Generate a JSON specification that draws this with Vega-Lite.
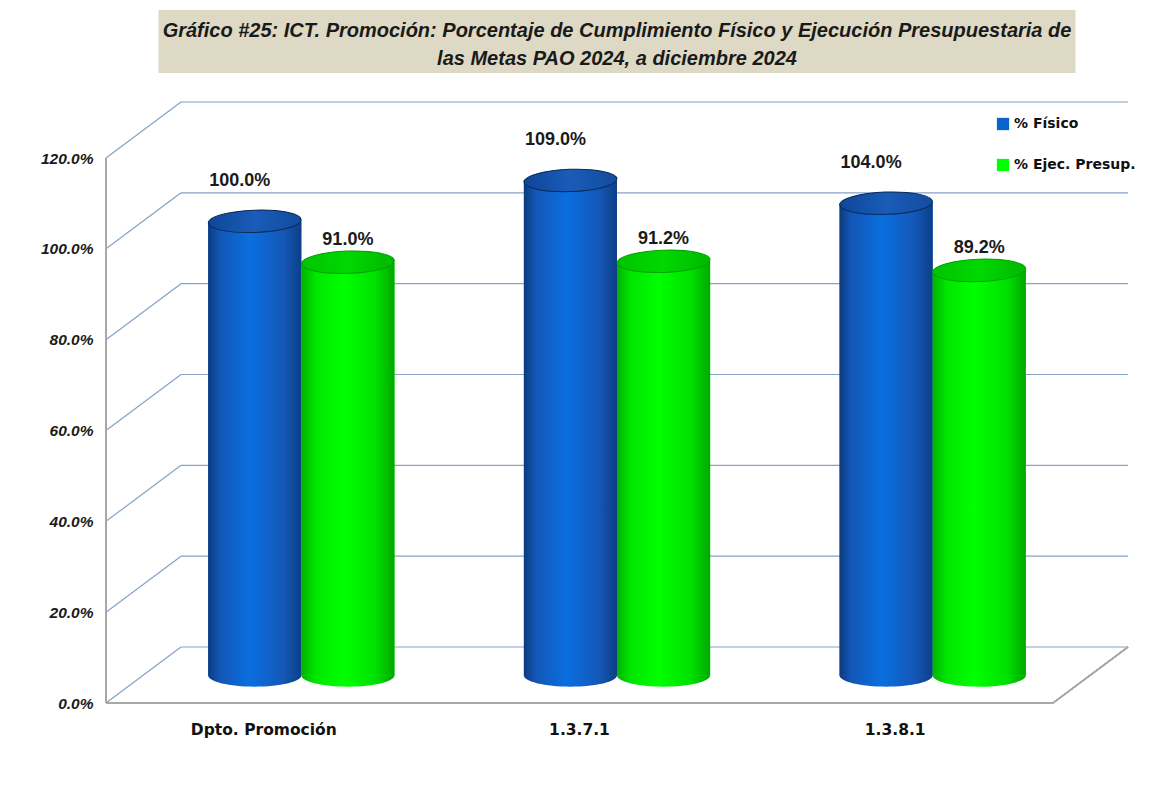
{
  "$schema": "https://vega.github.io/schema/vega-lite/v6.json",
  "background": "white",
  "padding": {"left": 40, "top": 10, "right": 5, "bottom": 5},
  "config": {
    "view": {"stroke": null},
    "font": "Liberation Sans",
    "axisY": {"title": null, "format": ".1%", "grid": false, "domain": false, "ticks": false, "labelFont": "Liberation Sans", "labelFontStyle": "italic", "labelFontWeight": "bold", "labelFontSize": 15.5, "labelPadding": 13, "labelColor": "#1a1a1a"}
  },
  "bounds": "flush",
  "center": true,
  "spacing": 85,
  "vconcat": [
    {
      "width": 917,
      "height": 63,
      "view": {"fill": "#ddd9c4", "stroke": null},
      "data": {"values": [{"t": "Gráfico #25: ICT.  Promoción: Porcentaje de  Cumplimiento Físico y  Ejecución Presupuestaria de\nlas Metas  PAO 2024, a  diciembre 2024"}]},
      "mark": {"type": "text", "lineBreak": "\n", "lineHeight": 28, "font": "Liberation Sans", "fontSize": 20, "fontWeight": "bold", "fontStyle": "italic", "color": "#1a1a1a", "align": "center", "baseline": "middle", "dy": -10.5},
      "encoding": {"text": {"field": "t", "type": "nominal"}}
    },
    {
      "width": 1022,
      "height": 545,
      "resolve": {"scale": {"x": "independent"}},
      "layer": [
        {
          "data": {"values": [{"v": 0}, {"v": 0.2}, {"v": 0.4}, {"v": 0.6}, {"v": 0.8}, {"v": 1.0}, {"v": 1.2}]},
          "layer": [
            {
              "mark": {"type": "rule", "color": "#86a2c9", "strokeWidth": 1.2, "yOffset": -56, "y2Offset": -56},
              "encoding": {
                "x": {"datum": 0.2376, "type": "quantitative", "scale": {"domain": [0, 3.2376], "nice": false, "zero": false}, "axis": null},
                "x2": {"datum": 3.2376},
                "y": {"field": "v", "type": "quantitative", "scale": {"domain": [0, 1.2], "nice": false}, "axis": {"values": [0, 0.2, 0.4, 0.6, 0.8, 1.0, 1.2]}},
                "y2": {"field": "v"}
              }
            },
            {
              "mark": {"type": "rule", "color": "#86a2c9", "strokeWidth": 1.2, "y2Offset": -56},
              "encoding": {
                "x": {"datum": 0, "type": "quantitative", "scale": {"domain": [0, 3.2376], "nice": false, "zero": false}, "axis": null},
                "x2": {"datum": 0.2376},
                "y": {"field": "v", "type": "quantitative", "axis": {"values": [0, 0.2, 0.4, 0.6, 0.8, 1.0, 1.2]}},
                "y2": {"field": "v"}
              }
            },
            {
              "mark": {"type": "rule", "color": "#a8a8a8", "strokeWidth": 1.3},
              "encoding": {
                "x": {"datum": 0, "type": "quantitative", "scale": {"domain": [0, 3.2376], "nice": false, "zero": false}, "axis": null},
                "y": {"datum": 0, "type": "quantitative", "axis": {"values": [0, 0.2, 0.4, 0.6, 0.8, 1.0, 1.2]}},
                "y2": {"datum": 1.2}
              }
            },
            {
              "mark": {"type": "rule", "color": "#a8a8a8", "strokeWidth": 1.3},
              "encoding": {
                "x": {"datum": 0, "type": "quantitative", "scale": {"domain": [0, 3.2376], "nice": false, "zero": false}, "axis": null},
                "x2": {"datum": 3},
                "y": {"datum": 0, "type": "quantitative", "axis": {"values": [0, 0.2, 0.4, 0.6, 0.8, 1.0, 1.2]}}
              }
            },
            {
              "mark": {"type": "rule", "color": "#a8a8a8", "strokeWidth": 1.3, "y2Offset": -56},
              "encoding": {
                "x": {"datum": 3, "type": "quantitative", "scale": {"domain": [0, 3.2376], "nice": false, "zero": false}, "axis": null},
                "x2": {"datum": 3.2376},
                "y": {"datum": 0, "type": "quantitative", "axis": {"values": [0, 0.2, 0.4, 0.6, 0.8, 1.0, 1.2]}},
                "y2": {"datum": 0}
              }
            }
          ]
        },
        {
          "data": {"values": [
            {"cat": "Dpto. Promoción", "serie": "% Físico", "value": 1.0},
            {"cat": "Dpto. Promoción", "serie": "% Ejec. Presup.", "value": 0.91},
            {"cat": "1.3.7.1", "serie": "% Físico", "value": 1.09},
            {"cat": "1.3.7.1", "serie": "% Ejec. Presup.", "value": 0.912},
            {"cat": "1.3.8.1", "serie": "% Físico", "value": 1.04},
            {"cat": "1.3.8.1", "serie": "% Ejec. Presup.", "value": 0.892}
          ]},
          "encoding": {
            "x": {"field": "cat", "type": "nominal", "sort": null,
              "scale": {"paddingInner": 0.41, "paddingOuter": 0.3237},
              "axis": {"title": null, "labelAngle": 0, "labelOffset": -37.5, "labelPadding": 19, "domain": false, "ticks": false, "grid": false, "labelFont": "DejaVu Sans", "labelFontWeight": "bold", "labelFontSize": 15.5, "labelColor": "#111111"}},
            "xOffset": {"field": "serie", "type": "nominal", "sort": ["% Físico", "% Ejec. Presup."], "scale": {"paddingInner": 0, "paddingOuter": 0}}
          },
          "layer": [
            {
              "mark": {"type": "point", "filled": true, "opacity": 1, "shape": "M-1,0A1,0.24,0,1,1,1,0A1,0.24,0,1,1,-1,0Z", "size": 8649, "yOffset": -27.5},
              "encoding": {
                "y": {"datum": 0, "type": "quantitative", "axis": {"values": [0, 0.2, 0.4, 0.6, 0.8, 1.0, 1.2]}},
                "fill": {"condition": {"test": "datum.serie === '% Físico'", "value": {"gradient": "linear", "x1": 0, "x2": 1, "y1": 0, "y2": 0, "stops": [{"offset": 0, "color": "#0b3a7e"}, {"offset": 0.12, "color": "#1356b5"}, {"offset": 0.45, "color": "#0a6fe0"}, {"offset": 0.8, "color": "#1458b8"}, {"offset": 1, "color": "#0c3f86"}]}},
                  "value": {"gradient": "linear", "x1": 0, "x2": 1, "y1": 0, "y2": 0, "stops": [{"offset": 0, "color": "#00b400"}, {"offset": 0.15, "color": "#00e600"}, {"offset": 0.45, "color": "#00ff00"}, {"offset": 0.8, "color": "#00e000"}, {"offset": 1, "color": "#00a800"}]}}
              }
            },
            {
              "mark": {"type": "bar", "yOffset": -27.5, "y2Offset": -27.5},
              "encoding": {
                "y": {"field": "value", "type": "quantitative", "scale": {"domain": [0, 1.2], "nice": false}, "axis": {"values": [0, 0.2, 0.4, 0.6, 0.8, 1.0, 1.2]}},
                "y2": {"datum": 0},
                "fill": {"field": "serie", "type": "nominal", "title": null,
                  "scale": {"domain": ["% Físico", "% Ejec. Presup."], "range": ["#0a62cc", "#00ff00"]},
                  "legend": {"orient": "none", "legendX": 890, "legendY": 107, "symbolType": "square", "symbolSize": 150, "symbolStrokeWidth": 0, "labelFont": "DejaVu Sans", "labelFontWeight": "bold", "labelFontSize": 14, "labelColor": "#111111", "rowPadding": 27, "labelOffset": 4}}
              }
            },
            {
              "mark": {"type": "bar", "yOffset": -27.5, "y2Offset": -27.5},
              "encoding": {
                "y": {"field": "value", "type": "quantitative", "axis": {"values": [0, 0.2, 0.4, 0.6, 0.8, 1.0, 1.2]}},
                "y2": {"datum": 0},
                "fill": {"condition": {"test": "datum.serie === '% Físico'", "value": {"gradient": "linear", "x1": 0, "x2": 1, "y1": 0, "y2": 0, "stops": [{"offset": 0, "color": "#0b3a7e"}, {"offset": 0.12, "color": "#1356b5"}, {"offset": 0.45, "color": "#0a6fe0"}, {"offset": 0.8, "color": "#1458b8"}, {"offset": 1, "color": "#0c3f86"}]}},
                  "value": {"gradient": "linear", "x1": 0, "x2": 1, "y1": 0, "y2": 0, "stops": [{"offset": 0, "color": "#00b400"}, {"offset": 0.15, "color": "#00e600"}, {"offset": 0.45, "color": "#00ff00"}, {"offset": 0.8, "color": "#00e000"}, {"offset": 1, "color": "#00a800"}]}}
              }
            },
            {
              "mark": {"type": "point", "filled": true, "opacity": 1, "shape": "M-1,0A1,0.24,0,1,1,1,0A1,0.24,0,1,1,-1,0Z", "size": 8649, "yOffset": -27.5, "strokeWidth": 1, "angle": -2},
              "encoding": {
                "y": {"field": "value", "type": "quantitative", "axis": {"values": [0, 0.2, 0.4, 0.6, 0.8, 1.0, 1.2]}},
                "fill": {"condition": {"test": "datum.serie === '% Físico'", "value": {"gradient": "linear", "x1": 0, "x2": 1, "y1": 0, "y2": 0, "stops": [{"offset": 0, "color": "#0f4597"}, {"offset": 0.5, "color": "#1a5cb8"}, {"offset": 1, "color": "#124c9e"}]}},
                  "value": {"gradient": "linear", "x1": 0, "x2": 1, "y1": 0, "y2": 0, "stops": [{"offset": 0, "color": "#00c400"}, {"offset": 0.5, "color": "#00d800"}, {"offset": 1, "color": "#00b800"}]}},
                "stroke": {"condition": {"test": "datum.serie === '% Físico'", "value": "#0a2855"}, "value": "#00a000"}
              }
            },
            {
              "transform": [{"filter": "datum.serie === '% Físico'"}],
              "mark": {"type": "text", "font": "Liberation Sans", "fontWeight": "bold", "fontSize": 18, "color": "#1a1a1a", "baseline": "middle", "yOffset": -68, "dx": -15},
              "encoding": {
                "y": {"field": "value", "type": "quantitative", "axis": {"values": [0, 0.2, 0.4, 0.6, 0.8, 1.0, 1.2]}},
                "text": {"field": "value", "type": "quantitative", "format": ".1%"}
              }
            },
            {
              "transform": [{"filter": "datum.serie === '% Ejec. Presup.'"}],
              "mark": {"type": "text", "font": "Liberation Sans", "fontWeight": "bold", "fontSize": 18, "color": "#1a1a1a", "baseline": "middle", "yOffset": -50},
              "encoding": {
                "y": {"field": "value", "type": "quantitative", "axis": {"values": [0, 0.2, 0.4, 0.6, 0.8, 1.0, 1.2]}},
                "text": {"field": "value", "type": "quantitative", "format": ".1%"}
              }
            }
          ]
        }
      ]
    }
  ]
}
